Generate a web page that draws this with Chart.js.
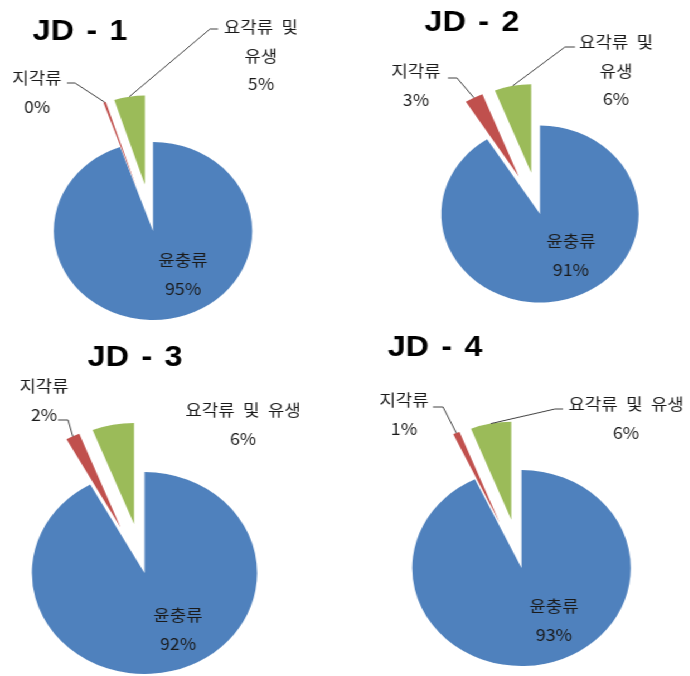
<!DOCTYPE html>
<html lang="ko">
<head>
<meta charset="utf-8">
<title>JD 정점별 동물플랑크톤 조성</title>
<script src="https://cdn.jsdelivr.net/npm/chart.js@4.4.1/dist/chart.umd.min.js"></script>
<style>
  html, body { margin: 0; padding: 0; background: #fff; }
  body { width: 690px; height: 676px; overflow: hidden; position: relative; }
  /* the charts are drawn a little narrower and stretched sideways */
  #stage { position: absolute; left: 0; top: 0; width: 619px; height: 676px;
           transform: scaleX(1.115); transform-origin: 0 0; }
  #stage canvas { position: absolute; left: 0; top: 0; }
</style>
</head>
<body>
<div id="stage">
  <canvas id="jd1" width="619" height="676"></canvas>
  <canvas id="jd2" width="619" height="676"></canvas>
  <canvas id="jd3" width="619" height="676"></canvas>
  <canvas id="jd4" width="619" height="676"></canvas>
</div>
<script>
// categories and station values (%)
const categories = ['윤충류', '지각류', '요각류 및 유생'];
const stations = ['JD - 1', 'JD - 2', 'JD - 3', 'JD - 4'];
const jd1Values = [95, 0.4, 5];
const jd2Values = [91, 3, 6];
const jd3Values = [92, 2, 6];
const jd4Values = [93, 1, 6];
const sliceColors = ['#4F81BD', '#C0504D', '#9BBB59'];

const SX = 1.115;          // horizontal stretch of #stage
const W = 619, H = 676;
const LINE_H = 28.5;

// page positions: pie centre, radius, explode distance, title, labels
const layouts = [
    {
        cx: 153, cy: 231, r: 89, explode: 47, title: [80, 40],
        labels: [
            { at: [183, 260] },
            { at: [37, 78], from: [67, 83], stub: 8 },
            { at: [261, 27], split: true, from: [218, 29], stub: -8 }
        ]
    },
    {
        cx: 540, cy: 214, r: 88.5, explode: 42, title: [472, 31],
        labels: [
            { at: [571, 241] },
            { at: [416, 71], from: [448, 78], stub: 9 },
            { at: [616, 42], split: true, from: [575, 47], stub: -10 }
        ]
    },
    {
        cx: 144.5, cy: 573, r: 101, explode: 50, title: [135, 366],
        labels: [
            { at: [178, 615] },
            { at: [44, 386], from: [58, 420], stub: 10 },
            { at: [243, 410] }
        ]
    },
    {
        cx: 521.5, cy: 568, r: 98, explode: 49, title: [435, 356],
        labels: [
            { at: [554, 606] },
            { at: [404, 400], from: [433, 407], stub: 10 },
            { at: [626, 404], from: [563, 409], stub: -8 }
        ]
    }
];

// pull every slice but the first out along its mid angle
function explodePlugin(dist) {
    return {
        id: 'explode',
        afterDatasetUpdate(chart, args) {
            args.meta.data.forEach((arc, i) => {
                if (i === 0) return;
                const mid = (arc.startAngle + arc.endAngle) / 2;
                arc.x += Math.cos(mid) * dist;
                arc.y += Math.sin(mid) * dist;
            });
        }
    };
}

// station title, data labels and leader lines
function notesPlugin(layout, title) {
    return {
        id: 'notes',
        afterDatasetsDraw(chart) {
            const ctx = chart.ctx;
            const meta = chart.getDatasetMeta(0);
            const values = chart.data.datasets[0].data;
            const total = values.reduce((a, b) => a + b, 0);

            ctx.save();
            ctx.fillStyle = '#000';
            ctx.font = 'bold 29px "Liberation Sans", Arial, sans-serif';
            ctx.textAlign = 'center';
            ctx.textBaseline = 'alphabetic';
            if ('wordSpacing' in ctx) ctx.wordSpacing = '3px';
            ctx.fillText(title, layout.title[0] / SX, layout.title[1]);

            meta.data.forEach((arc, i) => {
                const lab = layout.labels[i];
                const name = categories[i];
                const pct = Math.round(values[i] / total * 100) + '%';
                let lines = [name, pct];
                if (lab.split) {
                    const k = name.lastIndexOf(' ');
                    lines = [name.slice(0, k), name.slice(k + 1), pct];
                }

                ctx.fillStyle = '#1a1a1a';
                ctx.font = '16px "Noto Sans CJK KR", "Noto Sans", sans-serif';
                ctx.textAlign = 'center';
                ctx.textBaseline = 'middle';
                if ('wordSpacing' in ctx) ctx.wordSpacing = '4px';
                lines.forEach((t, j) => {
                    ctx.fillText(t, lab.at[0] / SX, lab.at[1] + j * LINE_H);
                });

                if (lab.from) {
                    const mid = (arc.startAngle + arc.endAngle) / 2;
                    const ex = arc.x + Math.cos(mid) * arc.outerRadius;
                    const ey = arc.y + Math.sin(mid) * arc.outerRadius;
                    ctx.strokeStyle = '#404040';
                    ctx.lineWidth = 1;
                    ctx.beginPath();
                    ctx.moveTo(lab.from[0] / SX, lab.from[1]);
                    ctx.lineTo((lab.from[0] + lab.stub) / SX, lab.from[1]);
                    ctx.lineTo(ex, ey);
                    ctx.stroke();
                }
            });
            ctx.restore();
        }
    };
}

function drawStation(id, title, values, layout) {
    const cx = layout.cx / SX;
    const cy = layout.cy;
    const h = 5;
    new Chart(document.getElementById(id), {
        type: 'pie',
        data: {
            labels: categories,
            datasets: [{
                data: values,
                backgroundColor: sliceColors,
                borderWidth: 0
            }]
        },
        options: {
            responsive: false,
            animation: false,
            events: [],
            radius: layout.r,
            rotation: 0,
            layout: {
                padding: { left: cx - h, right: W - cx - h, top: cy - h, bottom: H - cy - h }
            },
            plugins: {
                legend: { display: false },
                title: { display: false },
                tooltip: { enabled: false }
            }
        },
        plugins: [explodePlugin(layout.explode), notesPlugin(layout, title)]
    });
}

window.onload = () => {
    drawStation('jd1', stations[0], jd1Values, layouts[0]);
    drawStation('jd2', stations[1], jd2Values, layouts[1]);
    drawStation('jd3', stations[2], jd3Values, layouts[2]);
    drawStation('jd4', stations[3], jd4Values, layouts[3]);
};
</script>
</body>
</html>
